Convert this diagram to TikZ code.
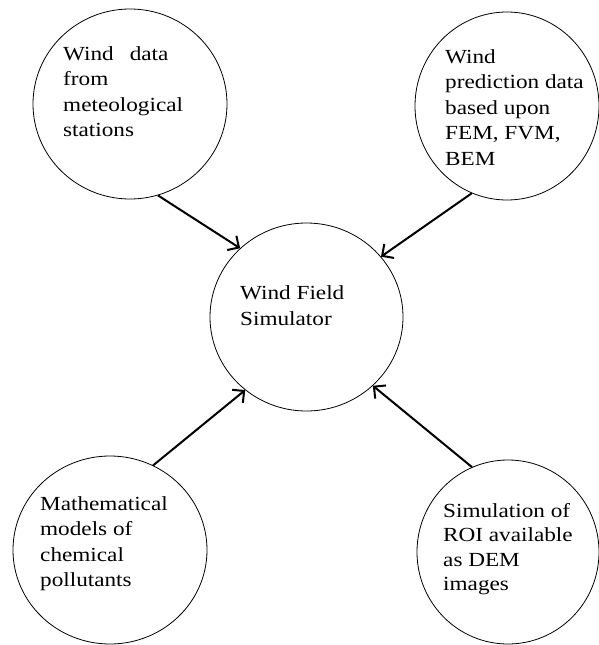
\documentclass[tikz,border=0pt]{standalone}
\usepackage{fontspec}
\setmainfont[FakeStretch=1.16]{Liberation Serif}
\usetikzlibrary{shapes.geometric,arrows.meta}
\begin{document}
\begin{tikzpicture}[x=1pt,y=-1pt,
  bubble/.style={draw, ellipse, line width=0.8pt, inner sep=0pt},
  txt/.style={anchor=base west, align=left, inner sep=0pt, font=\fontsize{20}{25.5}\selectfont},
  feed/.style={line width=2pt, -{Straight Barb[angle=90:12pt]}}
]
\useasboundingbox (0,0) rectangle (599,645);
\node[bubble, minimum width=194pt, minimum height=190pt] (tl) at (130,104) {};
\node[bubble, minimum width=184pt, minimum height=188pt] (tr) at (507,106) {};
\node[bubble, minimum width=193pt, minimum height=188pt] (c) at (306.5,317) {};
\node[bubble, minimum width=194pt, minimum height=188pt] (bl) at (110,550) {};
\node[bubble, minimum width=182pt, minimum height=184pt] (br) at (508,552) {};

% base anchor of a multi-line node is the baseline of its last line
\node[txt] (tltext) at (63,136.5) {Wind\hspace{16pt}data\\from\\meteological\\stations};
\node[txt] (trtext) at (445,165) {Wind\\prediction data\\based upon\\FEM, FVM,\\BEM};
\node[txt, font=\fontsize{20}{26}\selectfont] (ctext) at (240,325) {Wind Field\\Simulator};
\node[txt] (bltext) at (40,586.5) {Mathematical\\models of\\chemical\\pollutants};
\node[txt, font=\fontsize{20}{24.5}\selectfont] (brtext) at (443,590.5) {Simulation of\\ROI available\\as DEM\\images};

\draw[feed] (tl.-73) -- (c.134);
\draw[feed] (tr.-112) -- (c.39);
\draw[feed] (bl.63) -- (c.-130);
\draw[feed] (br.113) -- (c.-46);
\end{tikzpicture}
\end{document}
